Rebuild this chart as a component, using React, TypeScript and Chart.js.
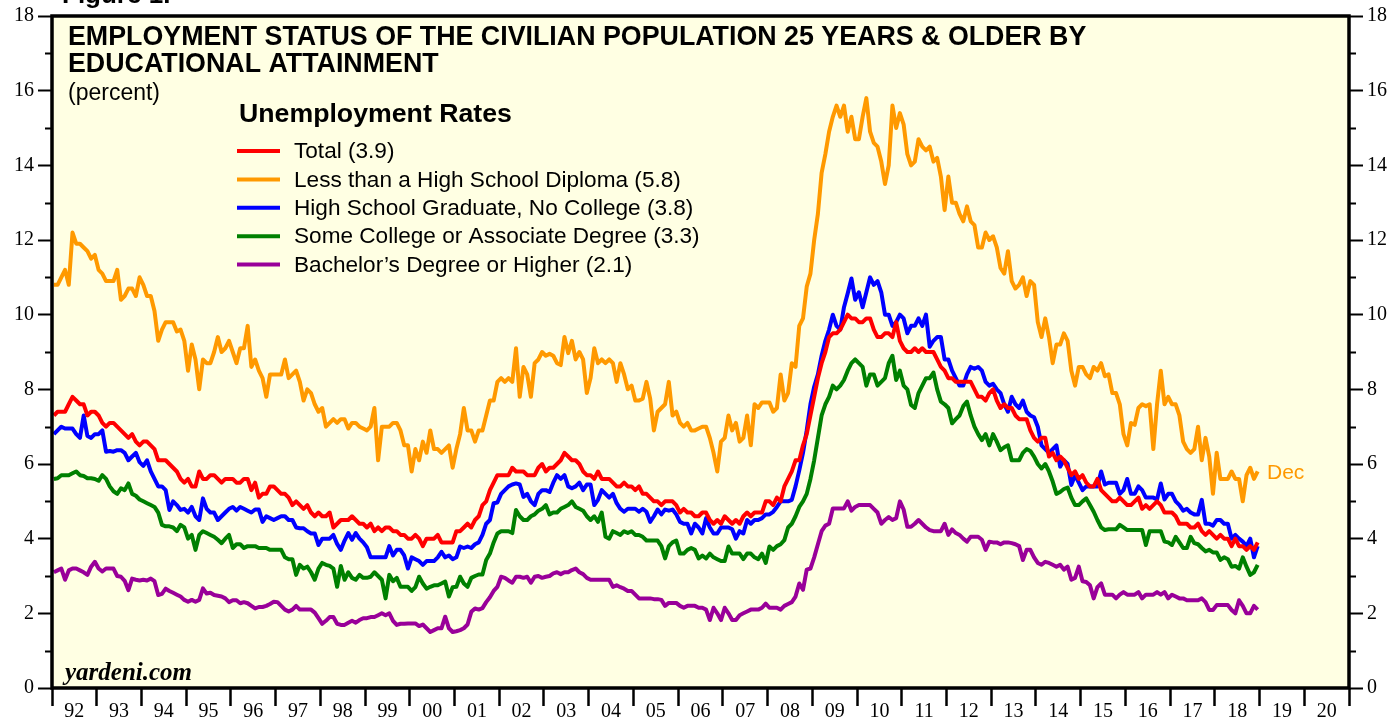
import React, { useEffect, useRef } from "react";
import { Chart, registerables } from "chart.js";

Chart.register(...registerables);

// Monthly data, Jan 1992 – Dec 2018 (one row per year)
const TOTAL = [
  7.3, 7.4, 7.4, 7.4, 7.6, 7.8, 7.7, 7.6, 7.6, 7.3, 7.4, 7.4,
  7.3, 7.1, 7.0, 7.1, 7.1, 7.0, 6.9, 6.8, 6.7, 6.8, 6.6, 6.5,
  6.6, 6.6, 6.5, 6.4, 6.1, 6.1, 6.1, 6.0, 5.9, 5.8, 5.6, 5.5,
  5.6, 5.4, 5.4, 5.8, 5.6, 5.6, 5.7, 5.7, 5.6, 5.5, 5.6, 5.6,
  5.6, 5.5, 5.5, 5.6, 5.6, 5.3, 5.5, 5.1, 5.2, 5.2, 5.4, 5.4,
  5.3, 5.2, 5.2, 5.1, 4.9, 5.0, 4.9, 4.8, 4.9, 4.7, 4.6, 4.7,
  4.6, 4.6, 4.7, 4.3, 4.4, 4.5, 4.5, 4.5, 4.6, 4.5, 4.4, 4.4,
  4.3, 4.4, 4.2, 4.3, 4.2, 4.3, 4.3, 4.2, 4.2, 4.1, 4.1, 4.0,
  4.0, 4.1, 4.0, 3.8, 4.0, 4.0, 4.0, 4.1, 3.9, 3.9, 3.9, 3.9,
  4.2, 4.2, 4.3, 4.4, 4.3, 4.5, 4.6, 4.9, 5.0, 5.3, 5.5, 5.7,
  5.7, 5.7, 5.7, 5.9, 5.8, 5.8, 5.8, 5.7, 5.7, 5.7, 5.9, 6.0,
  5.8, 5.9, 5.9, 6.0, 6.1, 6.3, 6.2, 6.1, 6.1, 6.0, 5.8, 5.7,
  5.7, 5.6, 5.8, 5.6, 5.6, 5.6, 5.5, 5.4, 5.4, 5.5, 5.4, 5.4,
  5.3, 5.4, 5.2, 5.2, 5.1, 5.0, 5.0, 4.9, 5.0, 5.0, 5.0, 4.9,
  4.7, 4.8, 4.7, 4.7, 4.6, 4.6, 4.7, 4.7, 4.5, 4.4, 4.5, 4.4,
  4.6, 4.5, 4.4, 4.5, 4.4, 4.6, 4.7, 4.6, 4.7, 4.7, 4.7, 5.0,
  5.0, 4.9, 5.1, 5.0, 5.4, 5.6, 5.8, 6.1, 6.1, 6.5, 6.8, 7.3,
  7.8, 8.3, 8.7, 9.0, 9.4, 9.5, 9.5, 9.6, 9.8, 10.0, 9.9, 9.9,
  9.8, 9.8, 9.9, 9.9, 9.6, 9.4, 9.4, 9.5, 9.5, 9.4, 9.8, 9.3,
  9.1, 9.0, 9.0, 9.1, 9.0, 9.1, 9.0, 9.0, 9.0, 8.8, 8.6, 8.5,
  8.3, 8.3, 8.2, 8.2, 8.2, 8.2, 8.2, 8.0, 7.8, 7.8, 7.7, 7.9,
  8.0, 7.7, 7.5, 7.6, 7.5, 7.5, 7.3, 7.2, 7.2, 7.2, 6.9, 6.7,
  6.6, 6.7, 6.7, 6.2, 6.3, 6.1, 6.2, 6.1, 5.9, 5.7, 5.8, 5.6,
  5.7, 5.5, 5.4, 5.4, 5.6, 5.3, 5.2, 5.1, 5.0, 5.0, 5.1, 5.0,
  4.9, 4.9, 5.0, 5.1, 4.8, 4.9, 4.8, 4.9, 5.0, 4.9, 4.7, 4.7,
  4.7, 4.6, 4.4, 4.4, 4.4, 4.3, 4.3, 4.4, 4.2, 4.1, 4.2, 4.1,
  4.0, 4.1, 4.0, 4.0, 3.8, 4.0, 3.8, 3.8, 3.7, 3.8, 3.7, 3.9,
];

const LESS_THAN_HS = [
  10.8, 10.8, 11.0, 11.2, 10.8, 12.2, 11.9, 11.9, 11.8, 11.7, 11.5, 11.6,
  11.2, 11.1, 10.9, 10.9, 10.9, 11.2, 10.4, 10.5, 10.7, 10.7, 10.5, 11.0,
  10.8, 10.5, 10.5, 10.1, 9.3, 9.6, 9.8, 9.8, 9.8, 9.55, 9.6, 9.3,
  8.5, 9.2, 8.8, 8.0, 8.8, 8.7, 8.7, 9.0, 9.4, 9.0, 9.1, 9.3,
  9.0, 8.7, 9.1, 9.1, 9.7, 8.6, 8.8, 8.5, 8.3, 7.8, 8.4, 8.4,
  8.4, 8.4, 8.8, 8.3, 8.4, 8.5, 8.2, 7.7, 8.0, 7.9, 7.6, 7.4,
  7.5, 7.0, 7.1, 7.2, 7.1, 7.2, 7.2, 6.95, 7.1, 7.1, 7.0, 6.95,
  6.9, 7.0, 7.5, 6.1, 7.0, 7.0, 7.0, 7.1, 7.1, 6.9, 6.5, 6.5,
  5.8, 6.4, 6.1, 6.6, 6.3, 6.9, 6.4, 6.4, 6.3, 6.4, 6.5, 5.9,
  6.4, 6.8, 7.5, 6.9, 6.9, 6.6, 6.9, 6.9, 7.3, 7.7, 7.7, 8.2,
  8.3, 8.2, 8.3, 8.2, 9.1, 7.8, 8.6, 8.4, 7.8, 8.7, 8.8, 9.0,
  8.9, 8.95, 8.9, 8.7, 8.65, 9.4, 8.97, 9.3, 8.8, 9.0, 8.8, 7.9,
  8.3, 9.1, 8.7, 8.8, 8.7, 8.8, 8.7, 8.2, 8.7, 8.4, 8.0, 8.1,
  7.7, 7.7, 7.75, 8.2, 7.75, 6.9, 7.4, 7.5, 7.6, 8.2, 7.3, 7.4,
  7.1, 7.0, 7.1, 6.9, 6.9, 6.95, 7.0, 7.0, 6.7, 6.3, 5.8, 6.6,
  6.7, 7.3, 6.9, 7.1, 6.6, 6.7, 7.3, 6.5, 7.6, 7.5, 7.65, 7.65,
  7.65, 7.4, 7.5, 8.4, 7.7, 7.9, 8.7, 8.6, 9.7, 9.9, 10.75, 11.1,
  12.0, 12.7, 13.8, 14.3, 14.9, 15.3, 15.6, 15.3, 15.6, 14.9, 15.3, 14.7,
  14.7, 15.3, 15.8, 14.9, 14.6, 14.5, 14.1, 13.5, 14.0, 15.6, 15.0, 15.4,
  15.1, 14.3, 14.0, 14.1, 14.7, 14.5, 14.4, 14.5, 14.1, 14.2, 13.7, 12.8,
  13.7, 13.0, 13.0, 12.7, 12.5, 12.9, 12.5, 12.4, 11.8, 11.8, 12.2, 12.0,
  12.1, 11.8, 11.25, 11.1, 11.7, 10.9, 10.7, 10.8, 11.0, 10.5, 10.9, 10.8,
  9.8, 9.4, 9.9, 9.4, 8.7, 9.2, 9.2, 9.5, 9.3, 8.5, 8.1, 8.6,
  8.6, 8.4, 8.3, 8.6, 8.5, 8.7, 8.35, 8.4, 7.9, 7.9, 7.6, 6.8,
  6.5, 7.1, 7.05, 7.5, 7.6, 7.55, 7.6, 6.4, 7.6, 8.5, 7.6, 7.8,
  7.6, 7.6, 7.3, 6.6, 6.4, 6.3, 6.4, 7.0, 6.1, 6.7, 6.2, 5.2,
  6.3, 5.6, 5.6, 5.6, 5.8, 5.6, 5.6, 5.0, 5.7, 5.9, 5.6, 5.8,
];

const HS_GRAD = [
  6.8, 6.9, 7.0, 6.95, 6.95, 6.95, 6.8, 6.7, 7.3, 6.75, 6.7, 6.8,
  6.8, 6.9, 6.33, 6.35, 6.33, 6.37, 6.37, 6.3, 6.1, 6.2, 6.3, 6.05,
  5.95, 6.1, 5.8, 5.6, 5.4, 5.4, 5.3, 4.77, 5.0, 4.9, 4.77, 4.8,
  4.7, 4.85, 4.6, 4.5, 5.08, 4.8, 4.7, 4.7, 4.5, 4.6, 4.7, 4.8,
  4.85, 4.75, 4.85, 4.8, 4.75, 4.7, 4.78, 4.78, 4.45, 4.6, 4.55, 4.5,
  4.55, 4.6, 4.6, 4.5, 4.5, 4.3, 4.28, 4.28, 4.2, 4.14, 4.14, 3.83,
  4.0, 4.0, 4.0, 4.1, 3.86, 3.7, 3.95, 4.15, 3.97, 4.15, 4.0, 3.9,
  3.77, 3.5, 3.5, 3.5, 3.5, 3.5, 3.8, 3.55, 3.7, 3.7, 3.55, 3.2,
  3.5, 3.45, 3.4, 3.3, 3.4, 3.4, 3.4, 3.5, 3.65, 3.5, 3.55, 3.45,
  3.5, 3.79, 3.75, 3.79, 3.75, 3.85, 3.9, 4.1, 4.4, 4.5, 4.95, 4.97,
  5.2, 5.3, 5.4, 5.45, 5.48, 5.45, 5.12, 5.2, 5.0, 4.9, 5.2, 5.3,
  5.3, 5.25, 5.5, 5.7, 5.6, 5.7, 5.4, 5.35, 5.4, 5.5, 5.3, 5.45,
  5.45, 4.9, 5.04, 5.3, 5.2, 5.1, 5.2, 4.95, 4.8, 4.72, 4.8, 4.8,
  4.8, 4.72, 4.8, 4.72, 4.45, 4.6, 4.78, 4.65, 4.78, 4.75, 4.78, 4.65,
  4.45, 4.4, 4.4, 4.14, 4.4, 4.3, 4.14, 4.55, 4.3, 4.14, 4.14, 4.3,
  4.3, 4.3, 4.25, 4.0, 4.2, 4.14, 4.5, 4.4, 4.5, 4.5, 4.55, 4.65,
  4.65, 4.72, 4.85, 5.0, 5.0, 5.0, 5.04, 5.4, 5.83, 6.3, 6.9, 7.6,
  8.07, 8.4, 8.9, 9.3, 9.6, 10.0, 9.7, 9.6, 10.2, 10.57, 10.97, 10.4,
  10.6, 10.2, 10.6, 11.0, 10.8, 10.9, 10.6, 10.0, 10.0, 9.7, 9.8, 10.0,
  9.9, 9.5, 9.7, 9.7, 9.9, 9.7, 10.0, 9.14, 9.3, 9.4, 9.4, 8.8,
  8.8, 8.5, 8.3, 8.1, 8.1, 8.4, 8.6, 8.55, 8.6, 8.5, 8.2, 8.1,
  8.15, 8.0, 7.9, 7.6, 7.4, 7.8, 7.6, 7.5, 7.7, 7.4, 7.3, 7.25,
  7.0, 6.5, 6.4, 6.3, 6.4, 6.5, 5.93, 6.1, 6.0, 5.44, 5.7, 5.5,
  5.3, 5.4, 5.4, 5.4, 5.4, 5.8, 5.45, 5.5, 5.5, 5.5, 5.2, 5.3,
  5.6, 5.2, 5.2, 5.4, 5.3, 5.1, 5.1, 5.1, 5.05, 5.48, 5.05, 5.2,
  5.2, 5.0, 4.9, 4.75, 4.8, 4.7, 4.65, 4.65, 5.04, 4.4, 4.4, 4.35,
  4.5, 4.5, 4.4, 4.4, 4.0, 4.1, 4.0, 3.92, 3.8, 4.0, 3.5, 3.8,
];

const SOME_COLLEGE = [
  5.6, 5.62, 5.7, 5.7, 5.7, 5.75, 5.8, 5.7, 5.68, 5.62, 5.62, 5.6,
  5.55, 5.7, 5.6, 5.4, 5.27, 5.2, 5.35, 5.3, 5.48, 5.2, 5.15, 5.05,
  5.0, 4.95, 4.9, 4.85, 4.7, 4.37, 4.33, 4.33, 4.3, 4.2, 4.37, 4.3,
  4.0, 4.1, 3.7, 4.1, 4.2, 4.15, 4.1, 4.05, 3.97, 3.88, 4.0, 4.1,
  3.75, 3.85, 3.85, 3.75, 3.8, 3.8, 3.8, 3.75, 3.75, 3.75, 3.7, 3.7,
  3.7, 3.7, 3.5, 3.45, 3.45, 3.03, 3.3, 3.2, 3.25, 3.1, 2.9, 3.2,
  3.35, 3.3, 3.27, 3.2, 2.71, 3.27, 2.9, 3.1, 2.95, 2.9, 3.03, 2.95,
  2.95, 2.98, 3.1, 3.0, 2.9, 2.4, 3.03, 2.86, 2.95, 2.71, 2.71, 2.71,
  2.6, 2.7, 2.98, 2.8, 2.66, 2.71, 2.75, 2.75, 2.8, 2.85, 2.45, 2.7,
  2.71, 2.98, 2.8, 2.71, 2.95, 3.0, 3.04, 3.04, 3.43, 3.6, 3.9, 4.14,
  4.2, 4.2, 4.2, 4.15, 4.77, 4.6, 4.5, 4.5, 4.6, 4.65, 4.75, 4.8,
  4.9, 4.65, 4.7, 4.7, 4.8, 4.85, 4.9, 5.0, 4.85, 4.8, 4.75, 4.6,
  4.5, 4.6, 4.45, 4.7, 4.05, 4.0, 4.2, 4.15, 4.1, 4.2, 4.15, 4.2,
  4.1, 4.1, 4.05, 3.95, 3.95, 3.95, 3.95, 3.8, 3.47, 3.8, 3.9, 3.95,
  3.6, 3.6, 3.7, 3.75, 3.7, 3.47, 3.55, 3.47, 3.6, 3.5, 3.45, 3.4,
  3.4, 3.79, 3.6, 3.6, 3.6, 3.45, 3.6, 3.6, 3.5, 3.45, 3.6, 3.35,
  3.79, 3.7, 3.8, 3.85, 3.96, 4.3, 4.4, 4.6, 4.85, 5.0, 5.2, 5.6,
  6.1, 6.7, 7.3, 7.6, 7.8, 8.1, 8.0, 8.1, 8.25, 8.5, 8.7, 8.8,
  8.7, 8.6, 8.1, 8.4, 8.4, 8.1, 8.2, 8.3, 8.7, 8.9, 8.25, 8.5,
  8.1, 8.0, 7.58, 7.5, 7.9, 8.1, 8.3, 8.3, 8.45, 8.0, 7.67, 7.6,
  7.5, 7.09, 7.2, 7.3, 7.55, 7.67, 7.3, 7.0, 6.8, 6.64, 6.8, 6.5,
  6.8, 6.6, 6.37, 6.45, 6.5, 6.1, 6.1, 6.1, 6.3, 6.4, 6.35, 6.2,
  6.0, 5.88, 6.0, 5.8, 5.53, 5.2, 5.25, 5.33, 5.37, 5.1, 4.9, 4.9,
  5.0, 5.08, 4.9, 4.72, 4.5, 4.3, 4.23, 4.25, 4.25, 4.25, 4.37, 4.3,
  4.23, 4.23, 4.23, 4.23, 4.23, 3.83, 4.2, 4.2, 4.2, 4.2, 3.92, 3.9,
  3.83, 4.05, 3.9, 3.75, 3.75, 4.05, 3.88, 3.85, 3.75, 3.66, 3.7, 3.63,
  3.63, 3.43, 3.5, 3.45, 3.25, 3.27, 3.2, 3.5, 3.25, 3.03, 3.1, 3.3,
];

const BACHELORS = [
  3.1, 3.15, 3.2, 2.9, 3.15, 3.2, 3.2, 3.15, 3.1, 3.03, 3.25, 3.38,
  3.2, 3.12, 3.2, 3.2, 3.2, 3.0, 2.98, 2.87, 2.62, 2.93, 2.9, 2.88,
  2.9, 2.88, 2.93, 2.86, 2.49, 2.52, 2.66, 2.6, 2.55, 2.5, 2.45, 2.36,
  2.31, 2.36, 2.31, 2.36, 2.67, 2.53, 2.55, 2.49, 2.47, 2.45, 2.4, 2.3,
  2.35, 2.35, 2.27, 2.3, 2.27, 2.2, 2.13, 2.17, 2.17, 2.2, 2.25, 2.31,
  2.3, 2.2, 2.1, 2.05, 2.1, 2.2, 2.1, 2.1, 2.1, 2.1, 2.02, 1.87,
  1.72, 1.8, 1.9, 1.9, 1.72, 1.69, 1.69, 1.75, 1.8, 1.75, 1.82, 1.87,
  1.87, 1.9, 1.9, 1.95, 2.0, 1.95, 2.0, 1.8, 1.69, 1.72, 1.72, 1.73,
  1.73, 1.73, 1.66, 1.7, 1.6, 1.5, 1.55, 1.6, 1.6, 1.91, 1.6, 1.5,
  1.52, 1.55, 1.6, 1.7, 2.04, 2.13, 2.1, 2.14, 2.3, 2.43, 2.6, 2.71,
  2.98, 2.95, 2.88, 2.82, 2.98, 2.98, 2.95, 2.98, 2.82, 2.98, 3.0, 2.95,
  2.98, 3.0, 3.07, 3.1, 3.05, 3.1, 3.1, 3.16, 3.2, 3.1, 3.05, 2.95,
  2.9, 2.9, 2.9, 2.9, 2.9, 2.9, 2.71, 2.75, 2.7, 2.66, 2.6, 2.6,
  2.5, 2.4, 2.4, 2.4, 2.4, 2.38, 2.38, 2.36, 2.2, 2.28, 2.28, 2.28,
  2.2, 2.15, 2.2, 2.2, 2.2, 2.15, 2.15, 2.1, 1.82, 2.15, 2.0, 1.82,
  2.15, 2.0, 1.82, 1.82, 1.95, 2.0, 2.05, 2.1, 2.1, 2.1, 2.15, 2.26,
  2.15, 2.15, 2.15, 2.1, 2.2, 2.25, 2.3, 2.45, 2.8, 2.63, 3.17, 3.2,
  3.5, 3.85, 4.2, 4.35, 4.4, 4.81, 4.81, 4.81, 4.81, 5.0, 4.75, 4.85,
  4.9, 4.9, 4.9, 4.9, 4.8, 4.7, 4.4, 4.5, 4.58, 4.5, 4.55, 5.0,
  4.78, 4.32, 4.32, 4.4, 4.5, 4.4, 4.3, 4.23, 4.2, 4.2, 4.2, 4.4,
  4.1, 4.25, 4.15, 4.1, 4.0, 3.92, 4.05, 4.05, 4.05, 3.97, 3.7, 3.92,
  3.9, 3.9, 3.85, 3.9, 3.9, 3.88, 3.85, 3.8, 3.43, 3.7, 3.7, 3.5,
  3.35, 3.3, 3.38, 3.35, 3.3, 3.25, 3.3, 3.17, 3.25, 2.9, 2.95, 3.25,
  2.86, 2.84, 2.75, 2.4, 2.7, 2.8, 2.5, 2.5, 2.5, 2.4, 2.5, 2.57,
  2.5, 2.5, 2.5, 2.57, 2.4, 2.5, 2.5, 2.5, 2.57, 2.5, 2.57, 2.4,
  2.5, 2.45, 2.4, 2.4, 2.35, 2.35, 2.35, 2.35, 2.4, 2.3, 2.09, 2.09,
  2.22, 2.22, 2.22, 2.22, 2.09, 2.0, 2.35, 2.2, 2.0, 2.0, 2.2, 2.1,
];

const START_YEAR = 1992;
const END_YEAR = 2021;
const SERIES_LABELS = [
  "Total (3.9)",
  "Less than a High School Diploma (5.8)",
  "High School Graduate, No College (3.8)",
  "Some College or Associate Degree (3.3)",
  "Bachelor\u2019s Degree or Higher (2.1)",
];
const SERIES_COLORS = ["#ff0000", "#ff9900", "#0000ff", "#008000", "#990099"];
const SERIES_DATA = [TOTAL, LESS_THAN_HS, HS_GRAD, SOME_COLLEGE, BACHELORS];

const TITLE_1 = "EMPLOYMENT STATUS OF THE CIVILIAN POPULATION 25 YEARS & OLDER BY";
const TITLE_2 = "EDUCATIONAL ATTAINMENT";
const UNIT = "(percent)";
const LEGEND_TITLE = "Unemployment Rates";
const END_LABEL = "Dec";
const SOURCE = "yardeni.com";

const SANS = "'Liberation Sans', Arial, sans-serif";
const SERIF = "'Liberation Serif', 'Times New Roman', serif";

function toPoints(values: number[]) {
  return values.map((v, i) => ({ x: START_YEAR + (i + 0.5) / 12, y: v }));
}

const decorPlugin = {
  id: "decor",
  beforeDraw(chart: any) {
    const { ctx, chartArea: a } = chart;
    ctx.save();
    ctx.fillStyle = "#ffffff";
    ctx.fillRect(0, 0, chart.width, chart.height);
    ctx.fillStyle = "#ffffe3";
    ctx.fillRect(a.left, a.top, a.right - a.left, a.bottom - a.top);
    ctx.restore();
  },
  afterDraw(chart: any) {
    const { ctx, chartArea: a } = chart;
    const y = chart.scales.y;
    ctx.save();
    // frame
    ctx.strokeStyle = "#000";
    ctx.lineWidth = 3.5;
    ctx.strokeRect(a.left, a.top, a.right - a.left, a.bottom - a.top);
    // minor ticks
    ctx.lineWidth = 2;
    for (let v = 1; v < 18; v += 2) {
      const py = Math.round(y.getPixelForValue(v)) + 0.5;
      ctx.beginPath();
      ctx.moveTo(a.left - 7, py);
      ctx.lineTo(a.left, py);
      ctx.moveTo(a.right, py);
      ctx.lineTo(a.right + 7, py);
      ctx.stroke();
    }
    // cropped figure caption at very top
    ctx.fillStyle = "#000";
    ctx.textBaseline = "alphabetic";
    ctx.textAlign = "left";
    ctx.font = `bold 26px ${SANS}`;
    ctx.fillText("Figure 1.", 62, 3);
    // title
    ctx.font = `bold 26.8px ${SANS}`;
    ctx.fillText(TITLE_1, 68, 45);
    ctx.fillText(TITLE_2, 68, 72);
    ctx.font = `23px ${SANS}`;
    ctx.fillText(UNIT, 68, 100);
    // legend
    ctx.font = `bold 26.7px ${SANS}`;
    ctx.fillText(LEGEND_TITLE, 239, 122);
    ctx.font = `22.6px ${SANS}`;
    ctx.textBaseline = "middle";
    SERIES_LABELS.forEach((label, i) => {
      const ly = 151 + i * 28.4;
      ctx.strokeStyle = SERIES_COLORS[i];
      ctx.lineWidth = 4;
      ctx.beginPath();
      ctx.moveTo(237, ly);
      ctx.lineTo(280, ly);
      ctx.stroke();
      ctx.fillStyle = "#000";
      ctx.fillText(label, 294, ly + 1);
    });
    // end label
    ctx.fillStyle = SERIES_COLORS[1];
    ctx.font = `21px ${SANS}`;
    ctx.fillText(END_LABEL, 1267, 473);
    // source
    ctx.fillStyle = "#000";
    ctx.textBaseline = "alphabetic";
    ctx.font = `italic bold 25px ${SERIF}`;
    ctx.fillText(SOURCE, 65, 680);
    ctx.restore();
  },
};

const yTicks = {
  stepSize: 2,
  padding: 4,
  color: "#000",
  font: { family: SERIF, size: 20 },
};
const yGrid = {
  drawOnChartArea: false,
  drawTicks: true,
  tickLength: 14,
  tickWidth: 2,
  tickColor: "#000",
};

export default function App() {
  const ref = useRef<HTMLCanvasElement>(null);
  useEffect(() => {
    if (!ref.current) return;
    const chart = new Chart(ref.current, {
      type: "line",
      data: {
        datasets: SERIES_DATA.map((d, i) => ({
          label: SERIES_LABELS[i],
          data: toPoints(d),
          borderColor: SERIES_COLORS[i],
          backgroundColor: SERIES_COLORS[i],
          borderWidth: 4,
          pointRadius: 0,
          tension: 0,
          fill: false,
          borderJoinStyle: "round" as const,
        })),
      },
      options: {
        responsive: false,
        animation: false,
        devicePixelRatio: 1,
        layout: { padding: { top: 16, left: 0, right: 0, bottom: 0 } },
        plugins: { legend: { display: false }, tooltip: { enabled: false } },
        scales: {
          x: {
            type: "linear",
            min: START_YEAR,
            max: END_YEAR,
            afterFit(s: any) {
              s.height = 29;
            },
            border: { display: false },
            grid: {
              drawOnChartArea: false,
              drawTicks: true,
              tickLength: 18,
              tickWidth: 2.5,
              tickColor: "#000",
            },
            ticks: {
              stepSize: 1,
              autoSkip: false,
              maxRotation: 0,
              minRotation: 0,
              labelOffset: 22.36,
              padding: -6,
              color: "#000",
              font: { family: SERIF, size: 20 },
              callback: (v: any) =>
                v >= END_YEAR ? "" : String(Math.round(v) % 100).padStart(2, "0"),
            },
          },
          y: {
            position: "left",
            min: 0,
            max: 18,
            afterFit(s: any) {
              s.width = 52;
            },
            border: { display: false },
            grid: yGrid,
            ticks: yTicks,
          },
          y2: {
            position: "right",
            min: 0,
            max: 18,
            afterFit(s: any) {
              s.width = 46;
            },
            border: { display: false },
            grid: yGrid,
            ticks: yTicks,
          },
        },
      },
      plugins: [decorPlugin],
    } as any);
    return () => chart.destroy();
  }, []);
  return (
    <div style={{ position: "fixed", left: 0, top: 0, width: 1395, height: 717, background: "#fff" }}>
      <canvas ref={ref} width={1395} height={717} style={{ display: "block", width: 1395, height: 717 }} />
    </div>
  );
}
